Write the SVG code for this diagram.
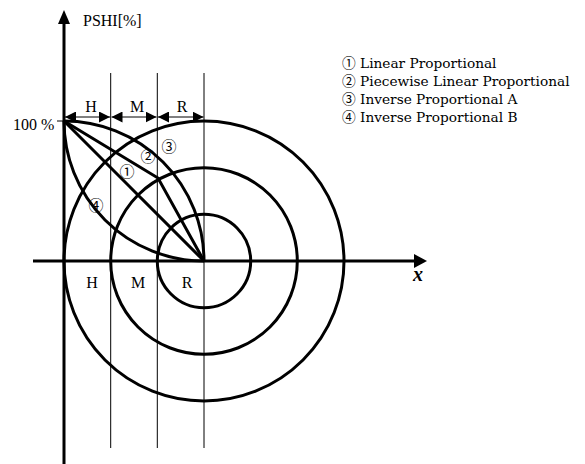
<svg xmlns="http://www.w3.org/2000/svg" width="585" height="464" viewBox="0 0 585 464">
<defs>
<style>
.thin{stroke:#000;stroke-width:1;fill:none}
.thick{stroke:#000;stroke-width:3;fill:none}
.axis{stroke:#000;stroke-width:3;fill:none}
.lbl{font-family:"Liberation Serif","Times New Roman",serif;font-size:16px;fill:#000}
.leg{font-family:"DejaVu Serif","Noto Sans CJK KR",serif;font-size:13.7px;fill:#000}
.num{font-family:"DejaVu Serif","Noto Sans CJK KR",serif;font-size:15px;fill:#000;text-anchor:middle}
</style>
<marker id="ah" viewBox="0 0 10 10" refX="10" refY="5" markerWidth="11" markerHeight="11" markerUnits="userSpaceOnUse" orient="auto-start-reverse">
<path d="M0,0 L10,5 L0,10 z" fill="#000"/>
</marker>
</defs>
<rect width="585" height="464" fill="#fff"/>
<g id="grid">
<line class="thin" x1="110.7" y1="73" x2="110.7" y2="448"/>
<line class="thin" x1="157.3" y1="73" x2="157.3" y2="448"/>
<line class="thin" x1="204" y1="73" x2="204" y2="448"/>
</g>
<g id="circles">
<circle class="thick" cx="204" cy="261" r="46.7"/>
<circle class="thick" cx="204" cy="261" r="93.3"/>
<circle class="thick" cx="204" cy="261" r="140"/>
</g>
<g id="connectors">
<path id="c1" class="thick" d="M64,121 L204,261"/>
<path id="c2" class="thick" d="M64,121 L158,178 L204,261" stroke-linejoin="miter"/>
<path id="c3" class="thick" d="M64,121 A140,140 0 0 1 204,261"/>
<path id="c4" class="thick" d="M64,121 A140,140 0 0 0 204,261"/>
<line class="thin" stroke-width="1.5" x1="65" y1="117" x2="110" y2="117" marker-start="url(#ah)" marker-end="url(#ah)"/>
<line class="thin" stroke-width="1.5" x1="111.5" y1="117" x2="156.5" y2="117" marker-start="url(#ah)" marker-end="url(#ah)"/>
<line class="thin" stroke-width="1.5" x1="158" y1="117" x2="203.5" y2="117" marker-start="url(#ah)" marker-end="url(#ah)"/>
</g>
<g id="axes">
<line class="axis" x1="64" y1="464" x2="64" y2="22"/>
<path d="M64,10 L58,24 L70,24 z" fill="#000"/>
<line class="axis" x1="33" y1="261" x2="416" y2="261"/>
<path d="M427,261 L414,254 L414,268 z" fill="#000"/>
<line class="thin" x1="57" y1="121" x2="64" y2="121"/>
</g>
<g id="labels">
<text class="lbl" x="83" y="26">PSHI[%]</text>
<text class="lbl" x="13" y="130" font-size="16.5">100 %</text>
<text class="lbl" x="91" y="112" text-anchor="middle">H</text>
<text class="lbl" x="137" y="112" text-anchor="middle">M</text>
<text class="lbl" x="182" y="112" text-anchor="middle">R</text>
<text class="lbl" x="92" y="288" text-anchor="middle">H</text>
<text class="lbl" x="138" y="288" text-anchor="middle">M</text>
<text class="lbl" x="187" y="288" text-anchor="middle">R</text>
<text x="413" y="281" font-family="Liberation Serif,serif" font-size="20" font-style="italic" font-weight="bold">x</text>
<text class="num" x="127" y="177">①</text>
<text class="num" x="148" y="162">②</text>
<text class="num" x="169" y="152">③</text>
<text class="num" x="96" y="211">④</text>
</g>
<g id="legend">
<text class="leg" x="342" y="68">① Linear Proportional</text>
<text class="leg" x="342" y="86">② Piecewise Linear Proportional</text>
<text class="leg" x="342" y="104">③ Inverse Proportional A</text>
<text class="leg" x="342" y="122">④ Inverse Proportional B</text>
</g>
</svg>
